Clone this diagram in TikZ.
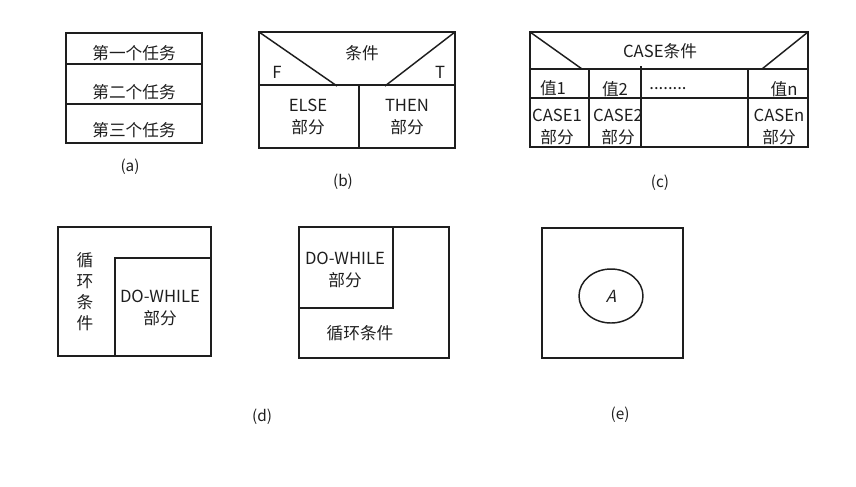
\documentclass[tikz,border=0pt]{standalone}
\usepackage{fontspec}
\setmainfont{Noto Sans CJK SC}
\newfontfamily\slantfont[FakeSlant=0.25]{Noto Sans CJK SC}
\usetikzlibrary{positioning}
\definecolor{ink}{HTML}{1E1E1E}
\tikzset{
  box/.style={draw=ink,line width=1.1pt},
  lbl/.style={font=\fontsize{12.5}{14}\selectfont,text=ink,inner sep=0pt},
  captxt/.style={font=\fontsize{11.5}{13}\selectfont,text=ink,inner sep=0pt}
}

\begin{document}
\begin{tikzpicture}[x=0.75pt,y=-0.75pt]
\useasboundingbox (0,0) rectangle (856,486);
% (a) sequence
\draw[box] (66,33) rectangle (202,143);
\draw[box] (66,64) -- (202,64);
\draw[box] (66,104) -- (202,104);
\node[lbl] (task1) at (134,53) {第一个任务};
\node[lbl] (task2) at (134,92) {第二个任务};
\node[lbl] (task3) at (134,130) {第三个任务};
\node[captxt] (capa) at (130,167) {(a)};
% (b) if-else
\draw[box] (259,32) rectangle (455,148);
\draw[box] (259,85) -- (455,85);
\draw[box] (359,85) -- (359,148);
\draw[box] (259,32) -- (337,86);
\draw[box] (455,32) -- (385,86);
\node[lbl] (cond) at (362,53) {条件};
\node[lbl] (fb) at (277,72) {F};
\node[lbl] (tb) at (440,72) {T};
\node[lbl] (else) at (308,105) {ELSE};
\node[lbl,below=6pt of else] (elsep) {部分};
\node[lbl] (then) at (407,105) {THEN};
\node[lbl,below=6pt of then] (thenp) {部分};
\node[captxt] (capb) at (343,182) {(b)};
% (c) case
\draw[box] (530,32) rectangle (808,147);
\draw[box] (530,69) -- (808,69);
\draw[box] (530,98) -- (808,98);
\draw[box] (589,69) -- (589,147);
\draw[box] (641,66) -- (641,147);
\draw[box] (748,69) -- (748,147);
\draw[box] (530,32) -- (582,69);
\draw[box] (808,32) -- (762,69);
\node[lbl] (casec) at (660,51) {CASE条件};
\node[lbl] (val1) at (553,88) {值1};
\node[lbl] (val2) at (615,89) {值2};
\node[lbl] (dots) at (668,89) {........};
\node[lbl] (valn) at (784,89) {值n};
\node[lbl] (case1) at (557,115) {CASE1};
\node[lbl,below=6pt of case1] (case1p) {部分};
\node[lbl] (case2) at (618,115) {CASE2};
\node[lbl,below=6pt of case2] (case2p) {部分};
\node[lbl] (casen) at (779,115) {CASEn};
\node[lbl,below=6pt of casen] (casenp) {部分};
\node[captxt] (capc) at (660,183) {(c)};
% (d) while and do-while
\draw[box] (58,227) rectangle (211,356);
\draw[box] (115,258) rectangle (211,356);
\node[lbl,align=center,font=\fontsize{12.5}{15.8}\selectfont] (loopl) at (85,292) {循\\环\\条\\件};
\node[lbl] (dowl) at (160,296) {DO-WHILE};
\node[lbl,below=6pt of dowl] (dowlp) {部分};
\draw[box] (299,227) rectangle (449,358);
\draw[box] (299,227) rectangle (393,308);
\node[lbl] (dowr) at (345,258) {DO-WHILE};
\node[lbl,below=6pt of dowr] (dowrp) {部分};
\node[lbl] (loopr) at (360,333) {循环条件};
\node[captxt] (capd) at (262,417) {(d)};
% (e) call
\draw[box] (542,228) rectangle (683,358);
\draw[box] (611,296) ellipse [x radius=32,y radius=27];
\node[lbl,font=\slantfont\fontsize{12.5}{14}\selectfont] (callA) at (611,296) {A};
\node[captxt] (cape) at (620,415) {(e)};
\end{tikzpicture}
\end{document}
